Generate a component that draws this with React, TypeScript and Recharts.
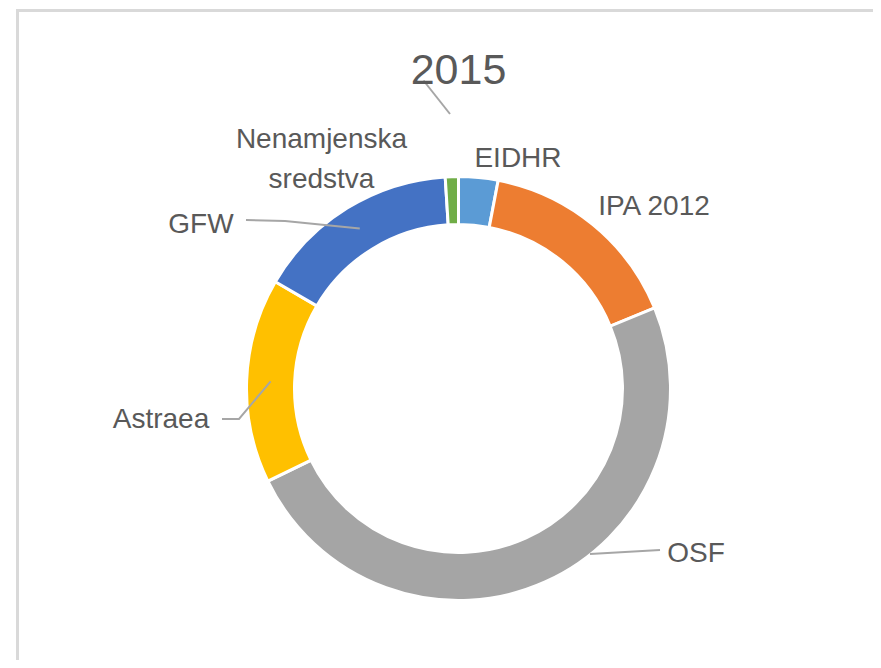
import React from 'react';
import { PieChart, Pie, Cell } from 'recharts';

// udio izvora financiranja, 2015 (procjena iz grafikona, %)
const categories = ['EIDHR', 'IPA 2012', 'OSF', 'Astraea', 'GFW', 'Nenamjenska sredstva'];
const shares = [3.0, 15.8, 49.0, 15.6, 15.6, 1.0];
const colors = ['#5B9BD5', '#ED7D31', '#A5A5A5', '#FFC000', '#4472C4', '#70AD47'];
const labelLines = [['EIDHR'], ['IPA 2012'], ['OSF'], ['Astraea'], ['GFW'], ['Nenamjenska', 'sredstva']];

const data = categories.map((name, i) => ({ name, value: shares[i] }));

const W = 881;
const H = 668;
const CX = 458.5;
const CY = 388.5;
const FONT = '"Liberation Sans", Arial, sans-serif';
const TEXT = '#595959';
const LINE = '#A6A6A6';
const RAD = Math.PI / 180;

// label placement relative to the donut centre (Excel-style manual labels)
const labelLayout: { [k: number]: { dx: number; dy: number; leader?: number[][]; toSlice?: boolean } } = {
  0: { dx: 59.5, dy: -231.5 },
  1: { dx: 195.5, dy: -183.5 },
  2: { dx: 237.5, dy: 163.5, leader: [[201.5, 161.5], [131.5, 165.5]] },
  3: { dx: -297.5, dy: 29.5, leader: [[-236.5, 30.5], [-219.5, 30.5]], toSlice: true },
  4: { dx: -257.5, dy: -165.5, leader: [[-212.5, -168.5], [-173.5, -167.5]], toSlice: true },
  5: { dx: -137, dy: -250.5 },
};

const renderLabel = (props: any) => {
  const { cx, cy, midAngle, innerRadius, outerRadius, index } = props;
  const lay = labelLayout[index];
  if (!lay) return null;
  const x = cx + lay.dx;
  const y = cy + lay.dy;
  const lines = labelLines[index];
  let pts: number[][] = [];
  if (lay.leader) {
    pts = lay.leader.map(([a, b]) => [cx + a, cy + b]);
    if (lay.toSlice) {
      const r = (innerRadius + outerRadius) / 2;
      pts.push([cx + r * Math.cos(-midAngle * RAD), cy + r * Math.sin(-midAngle * RAD)]);
    }
  }
  return (
    <g key={`lbl-${index}`}>
      {pts.length > 1 && (
        <polyline points={pts.map(p => p.join(',')).join(' ')} fill="none" stroke={LINE} strokeWidth={2} />
      )}
      <text x={x} y={y} textAnchor="middle" fill={TEXT} fontSize={28} fontFamily={FONT}>
        {lines.map((t, i) => (
          <tspan key={i} x={x} dy={i === 0 ? 10 : 40}>{t}</tspan>
        ))}
      </text>
    </g>
  );
};

export default function App() {
  return (
    <div style={{ position: 'relative', width: W, height: H, margin: -8, overflow: 'hidden', background: '#fff' }}>
      <div
        style={{
          position: 'absolute',
          left: 16,
          top: 9,
          width: W + 20,
          height: H + 20,
          border: '3px solid #D9D9D9',
          boxSizing: 'border-box',
        }}
      />
      <div style={{ position: 'absolute', left: 0, top: 0 }}>
        <PieChart width={W} height={H} margin={{ top: 0, right: 0, bottom: 0, left: 0 }}>
          <Pie
            data={data}
            dataKey="value"
            nameKey="name"
            cx={CX}
            cy={CY}
            innerRadius={164}
            outerRadius={212}
            startAngle={90}
            endAngle={-270}
            stroke="#FFFFFF"
            strokeWidth={3}
            label={renderLabel}
            labelLine={false}
            isAnimationActive={false}
          >
            {data.map((d, i) => (
              <Cell key={d.name} fill={colors[i]} />
            ))}
          </Pie>
        </PieChart>
      </div>
      <svg width={W} height={H} style={{ position: 'absolute', left: 0, top: 0, pointerEvents: 'none' }}>
        <line x1={CX - 35} y1={CY - 308} x2={CX - 8.5} y2={CY - 274.5} stroke={LINE} strokeWidth={2} />
        <text x={CX} y={CY - 305} textAnchor="middle" fill={TEXT} fontSize={43} fontFamily={FONT}>
          2015
        </text>
      </svg>
    </div>
  );
}
